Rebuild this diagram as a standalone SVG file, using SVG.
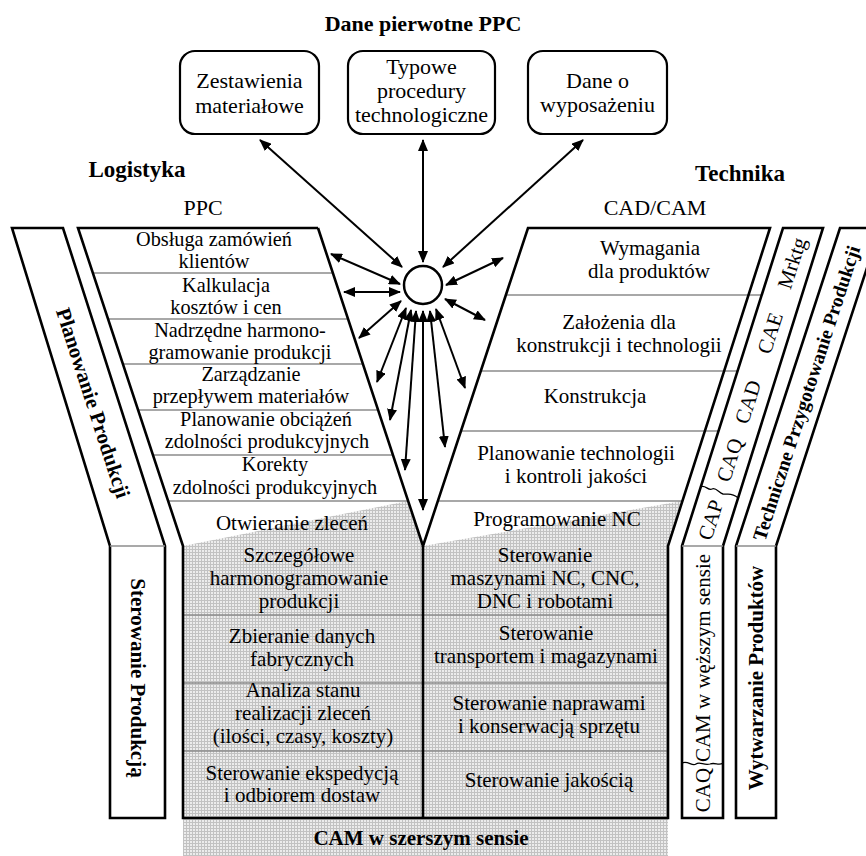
<svg xmlns="http://www.w3.org/2000/svg" width="866" height="856" viewBox="0 0 866 856">
<defs>
<style>
.t{font-family:"Liberation Serif","Times New Roman",serif;font-size:21px;text-anchor:middle;fill:#000}
.r{font-size:20.3px}
.bx{font-size:22px}
.b{font-weight:bold}
.k{fill:none;stroke:#000;stroke-width:2.6;stroke-linejoin:miter}
.kw{fill:#fff;stroke:#000;stroke-width:2.6;stroke-linejoin:miter}
.g{fill:none;stroke:#8c8c8c;stroke-width:1.3}
.arr{fill:none;stroke:#000;stroke-width:2;marker-start:url(#ah);marker-end:url(#ah)}
.box{fill:#fff;stroke:#000;stroke-width:2.2}
</style>
<marker id="ah" viewBox="0 0 12 10" refX="11" refY="5" markerWidth="12" markerHeight="10" markerUnits="userSpaceOnUse" orient="auto-start-reverse">
<path d="M0,0 L12,5 L0,10 Z" fill="#000"/>
</marker>
<pattern id="sh" width="3" height="3" patternUnits="userSpaceOnUse">
<rect width="3" height="3" fill="#ececec"/>
<rect width="3" height="1" fill="#c2c2c2"/>
<rect width="1" height="3" fill="#c2c2c2"/>
</pattern>
</defs>
<rect width="866" height="856" fill="#fff"/>

<text class="t b" x="423" y="31" style="font-size:22px">Dane pierwotne PPC</text>
<text class="t b" x="137" y="177" style="font-size:23px">Logistyka</text>
<text class="t b" x="740" y="181" style="font-size:23px">Technika</text>
<text class="t" x="203" y="215" style="font-size:22px">PPC</text>
<text class="t" x="655" y="215" style="font-size:22px">CAD/CAM</text>

<g id="box-zestawienia">
<rect class="box" x="180" y="51" width="139" height="83" rx="15"/>
<text class="t bx" x="249.5" y="88">Zestawienia</text>
<text class="t bx" x="249.5" y="113">materiałowe</text>
</g>
<g id="box-procedury">
<rect class="box" x="348" y="51" width="147" height="83" rx="15"/>
<text class="t bx" x="421.5" y="74">Typowe</text>
<text class="t bx" x="421.5" y="98">procedury</text>
<text class="t bx" x="421.5" y="122">technologiczne</text>
</g>
<g id="box-wyposazenie">
<rect class="box" x="528" y="51" width="139" height="83" rx="15"/>
<text class="t bx" x="597.5" y="88">Dane o</text>
<text class="t bx" x="597.5" y="112">wyposażeniu</text>
</g>

<g id="shading">
<path d="M183,546 L408.1,501 L423,546 L682.4,501 L668,546 L668,856 L183,856 Z" fill="url(#sh)"/>
</g>

<g id="strip-planowanie">
<path class="kw" d="M12,228 L63,228 L165,546 L165,818 L110,818 L110,546 Z"/>
<path class="g" d="M110,546 H165"/>
<text class="t b" transform="translate(93,403) rotate(72)" y="7">Planowanie Produkcji</text>
<text class="t b" transform="translate(138,678) rotate(90)" y="7">Sterowanie Produkcją</text>
</g>

<g id="ppc">
<path class="g" d="M92.9,273 H332.9 M108,319 H348 M122.9,364 H362.9 M138.1,410 H378.1 M152.9,455 H392.9 M168.1,501 H408.1"/>
<path class="g" d="M183,615 H668 M183,683 H668 M183,751 H668"/>
<text class="t r" x="214" y="246">Obsługa zamówień</text>
<text class="t r" x="214" y="268">klientów</text>
<text class="t r" x="226" y="292">Kalkulacja</text>
<text class="t r" x="226" y="314">kosztów i cen</text>
<text class="t r" x="240" y="337">Nadrzędne harmono-</text>
<text class="t r" x="240" y="359">gramowanie produkcji</text>
<text class="t r" x="251" y="381">Zarządzanie</text>
<text class="t r" x="251" y="403">przepływem materiałów</text>
<text class="t r" x="266" y="426">Planowanie obciążeń</text>
<text class="t r" x="267" y="448">zdolności produkcyjnych</text>
<text class="t r" x="275" y="471">Korekty</text>
<text class="t r" x="275" y="494">zdolności produkcyjnych</text>
<text class="t" x="292" y="530">Otwieranie zleceń</text>
<text class="t" x="299" y="562">Szczegółowe</text>
<text class="t" x="299" y="585">harmonogramowanie</text>
<text class="t" x="299" y="608">produkcji</text>
<text class="t" x="302" y="643">Zbieranie danych</text>
<text class="t" x="302" y="666">fabrycznych</text>
<text class="t" x="303" y="697">Analiza stanu</text>
<text class="t" x="303" y="720">realizacji zleceń</text>
<text class="t" x="303" y="743">(ilości, czasy, koszty)</text>
<text class="t" x="302" y="780">Sterowanie ekspedycją</text>
<text class="t" x="302" y="802">i odbiorem dostaw</text>
</g>

<g id="cadcam">
<path class="g" d="M505.9,295 H802 M480.8,371 H778 M461,431 H759 M437.9,501 H682.4"/>
<text class="t" x="650" y="255">Wymagania</text>
<text class="t" x="649" y="278">dla produktów</text>
<text class="t" x="619" y="329">Założenia dla</text>
<text class="t" x="619" y="352">konstrukcji i technologii</text>
<text class="t" x="595" y="403">Konstrukcja</text>
<text class="t" x="576" y="460">Planowanie technologii</text>
<text class="t" x="576" y="483">i kontroli jakości</text>
<text class="t" x="557" y="526">Programowanie NC</text>
<text class="t" x="545" y="562">Sterowanie</text>
<text class="t" x="545" y="585">maszynami NC, CNC,</text>
<text class="t" x="545" y="608">DNC i robotami</text>
<text class="t" x="546" y="640">Sterowanie</text>
<text class="t" x="546" y="663">transportem i magazynami</text>
<text class="t" x="549" y="710">Sterowanie naprawami</text>
<text class="t" x="549" y="733">i konserwacją sprzętu</text>
<text class="t" x="549" y="787">Sterowanie jakością</text>
</g>

<g id="outlines">
<path class="k" d="M318,228 L78,228 L183,546 L183,818 L668,818 L668,546 L770,228 L528,228 L423,546 L318,228"/>
<path class="k" d="M423,546 L423,818"/>
</g>

<g id="cam-szerszy">
<text class="t b" x="421" y="845">CAM w szerszym sensie</text>
</g>

<g id="strip-cax">
<path class="kw" d="M783,228 L823,228 L723,546 L723,818 L682,818 L682,546 Z"/>
<path class="g" d="M682,546 H723"/>
<path d="M700.3,487 C705,484 708,491 712,489 C716,487 719,493 723,494 C728,495 731,492 738.2,498" fill="none" stroke="#000" stroke-width="1.3"/>
<path d="M682,763 C688,760 692,767 696,764 C700,761 704,766 710,764 C715,762 719,766 723,763" fill="none" stroke="#000" stroke-width="1.3"/>
<text class="t" transform="translate(792,263) rotate(-72)" y="7">Mrktg</text>
<text class="t" transform="translate(770,333) rotate(-72)" y="7">CAE</text>
<text class="t" transform="translate(748,402) rotate(-72)" y="7">CAD</text>
<text class="t" transform="translate(729.7,460) rotate(-72)" y="7">CAQ</text>
<text class="t" transform="translate(710.7,520) rotate(-72)" y="7">CAP</text>
<text class="t" transform="translate(702.5,658) rotate(-90)" y="7">CAM w węższym sensie</text>
<text class="t" transform="translate(702.5,790) rotate(-90)" y="7">CAQ</text>
</g>

<g id="strip-techniczne">
<path class="kw" d="M840,228 L880,228 L776,546 L776,818 L736,818 L736,546 Z"/>
<path class="g" d="M736,546 H776"/>
<text class="t b" transform="translate(806,393) rotate(-72)" y="7" style="font-size:19.5px">Techniczne Przygotowanie Produkcji</text>
<text class="t b" transform="translate(756,678) rotate(-90)" y="7">Wytwarzanie Produktów</text>
</g>

<g id="connectors">
<line class="arr" x1="402" y1="267" x2="260" y2="140"/>
<line class="arr" x1="423" y1="262" x2="423" y2="140"/>
<line class="arr" x1="443" y1="267" x2="583" y2="140"/>
<line class="arr" x1="400" y1="284" x2="331" y2="254"/>
<line class="arr" x1="400" y1="292" x2="344" y2="292"/>
<line class="arr" x1="401" y1="301" x2="359" y2="338"/>
<line class="arr" x1="406" y1="308" x2="377" y2="382"/>
<line class="arr" x1="411" y1="310" x2="390" y2="420"/>
<line class="arr" x1="416" y1="311" x2="405" y2="470"/>
<line class="arr" x1="423" y1="311" x2="423" y2="510"/>
<line class="arr" x1="430" y1="311" x2="445" y2="447"/>
<line class="arr" x1="436" y1="309" x2="465" y2="388"/>
<line class="arr" x1="445" y1="299" x2="485" y2="320"/>
<line class="arr" x1="446" y1="285" x2="503" y2="258"/>
</g>

<g id="hub">
<circle cx="423" cy="285" r="19" fill="#fff" stroke="#000" stroke-width="2.5"/>
</g>
</svg>
